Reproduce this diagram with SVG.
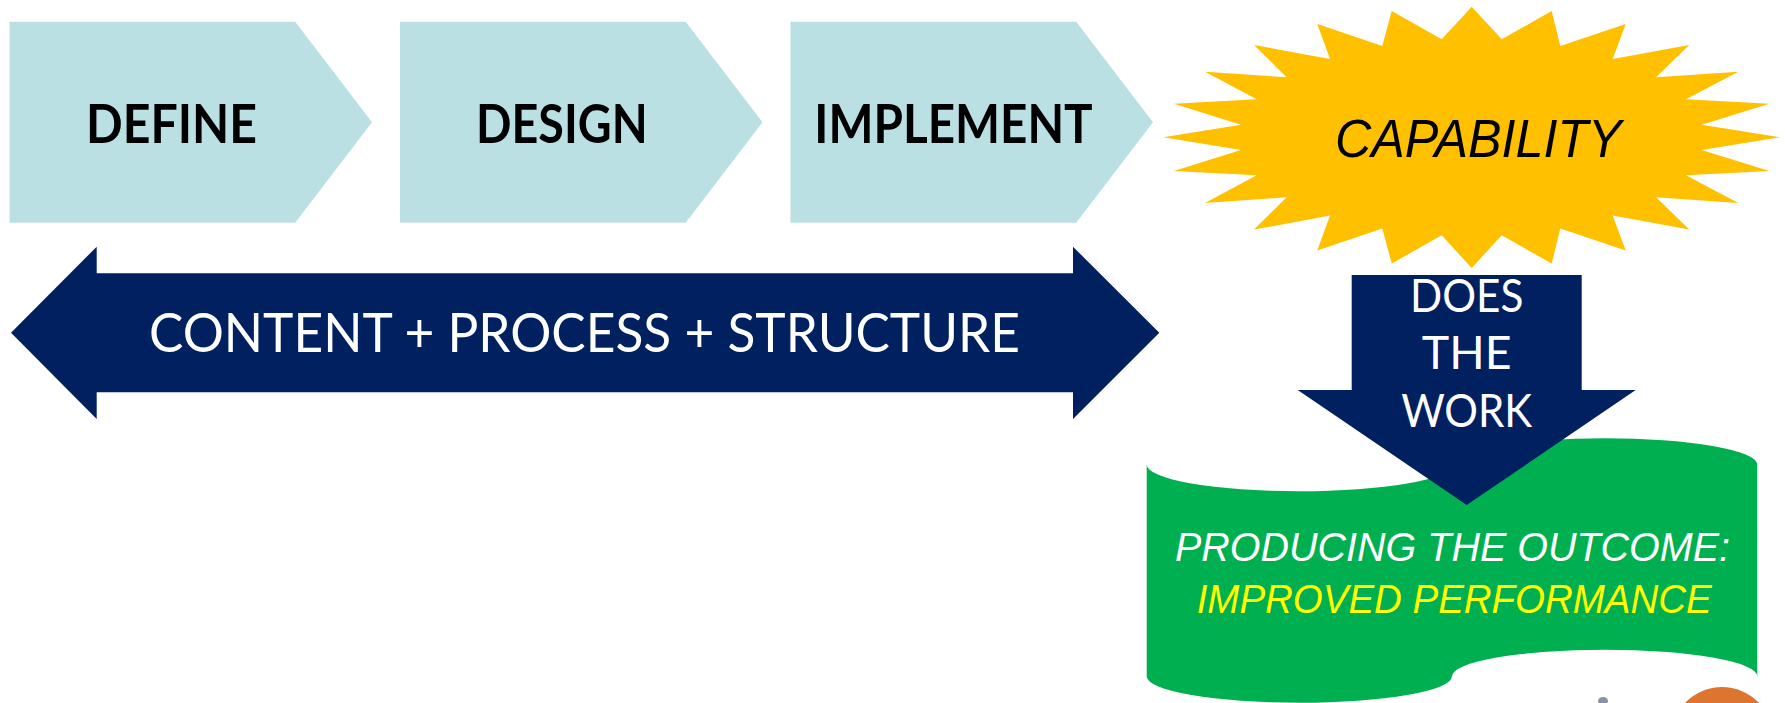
<svg xmlns="http://www.w3.org/2000/svg" width="1785" height="703" viewBox="0 0 1785 703">
  <style>
    .chev { fill: #BBE0E3; }
    .navy { fill: #002060; }
    .burst { fill: #FFC000; }
    .tape { fill: #00B050; }
    .step { font-family: Lato, "Open Sans", "Liberation Sans", sans-serif; font-weight: 700; font-size: 54px; fill: #000000; text-anchor: middle; }
    .band { font-family: Lato, "Open Sans", "Liberation Sans", sans-serif; font-size: 54.4px; fill: #FFFFFF; }
    .work { font-family: Lato, "Open Sans", "Liberation Sans", sans-serif; font-size: 46.5px; fill: #FFFFFF; text-anchor: middle; }
    .ital { font-family: "Liberation Sans", Arial, sans-serif; font-style: italic; text-anchor: middle; }
  </style>
  <rect width="1785" height="703" fill="#FFFFFF"/>

  <!-- process steps -->
  <g id="define">
    <polygon class="chev" points="9.5,21.7 295.2,21.7 372,122.2 295.2,222.7 9.5,222.7"/>
    <text class="step" x="171.5" y="142.7" textLength="171" lengthAdjust="spacingAndGlyphs">DEFINE</text>
  </g>
  <g id="design">
    <polygon class="chev" points="400,21.7 685.7,21.7 762.5,122.2 685.7,222.7 400,222.7"/>
    <text class="step" x="561.8" y="142.5" textLength="171.7" lengthAdjust="spacingAndGlyphs">DESIGN</text>
  </g>
  <g id="implement">
    <polygon class="chev" points="790.5,21.7 1076.2,21.7 1153,122.2 1076.2,222.7 790.5,222.7"/>
    <text class="step" x="953.5" y="142.5" textLength="278.4" lengthAdjust="spacingAndGlyphs">IMPLEMENT</text>
  </g>

  <!-- result burst -->
  <g id="capability">
    <polygon class="burst" points="1471.7,6.7 1501.7,39.3 1551.7,11 1560.3,46 1625.7,24 1612.7,59 1689.3,45 1656,77.3 1738.3,71.7 1686,99.3 1769.3,103.7 1701.7,124.7 1780,137.3 1701.7,150 1769.3,170.9 1686,175.3 1738.3,202.9 1656,197.3 1689.3,229.6 1612.7,215.6 1625.7,250.6 1560.3,228.6 1551.7,263.6 1501.7,235.3 1471.7,268 1441.7,235.3 1391.7,263.6 1382.3,228.6 1317.3,250.6 1330,215.6 1254,229.6 1286.7,197.3 1205,202.9 1256.7,175.3 1174,170.9 1241,150 1163.3,137.3 1241,124.7 1174,103.7 1256.7,99.3 1205,71.7 1286.7,77.3 1254,45 1330,59 1317.3,24 1382.3,46 1391.7,11 1441.7,39.3"/>
    <text class="ital" x="1478.3" y="157.3" font-size="54.5" fill="#000000" textLength="286.7" lengthAdjust="spacingAndGlyphs">CAPABILITY</text>
  </g>

  <!-- outcome banner (punched-tape outline) -->
  <g id="outcome">
    <path class="tape" d="M1146.7,464.7 A152.65,26.44 0 0 0 1452,464.7 A152.65,26.44 0 0 1 1757.3,464.7 L1757.3,676.3 A152.65,26.44 0 0 0 1452,676.3 A152.65,26.44 0 0 1 1146.7,676.3 Z"/>
    <text class="ital" x="1452.5" y="560.7" font-size="40.5" fill="#FFFFFF" textLength="555" lengthAdjust="spacingAndGlyphs">PRODUCING THE OUTCOME:</text>
    <text class="ital" x="1454.2" y="612.7" font-size="41" fill="#FFFF00" textLength="515" lengthAdjust="spacingAndGlyphs">IMPROVED PERFORMANCE</text>
  </g>

  <g id="connectors">
    <!-- capability drives the outcome -->
    <g id="does-the-work">
      <polygon class="navy" points="1351.7,275 1581.7,275 1581.7,390 1635.7,390 1466.7,505 1297.7,390 1351.7,390"/>
      <text class="work" x="1466.7" y="311.7" textLength="113.3" lengthAdjust="spacingAndGlyphs">DOES</text>
      <text class="work" x="1466.7" y="369">THE</text>
      <text class="work" x="1466.7" y="426.7" textLength="131" lengthAdjust="spacingAndGlyphs">WORK</text>
    </g>
    <!-- span under the three steps -->
    <g id="content-process-structure">
      <polygon class="navy" points="11,332.7 96.7,246.7 96.7,273.3 1073,273.3 1073,246.7 1159.3,332.7 1073,419 1073,392.3 96.7,392.3 96.7,419"/>
      <text class="band" x="149" y="352.3" textLength="871" lengthAdjust="spacingAndGlyphs">CONTENT + PROCESS + STRUCTURE</text>
    </g>
  </g>

  <!-- partial picture at the lower right edge -->
  <g id="picture-edge">
    <circle cx="1722" cy="738" r="51" fill="#DD7530"/>
    <ellipse cx="1603" cy="701" rx="5" ry="4" fill="#8A90A8"/>
  </g>
</svg>
